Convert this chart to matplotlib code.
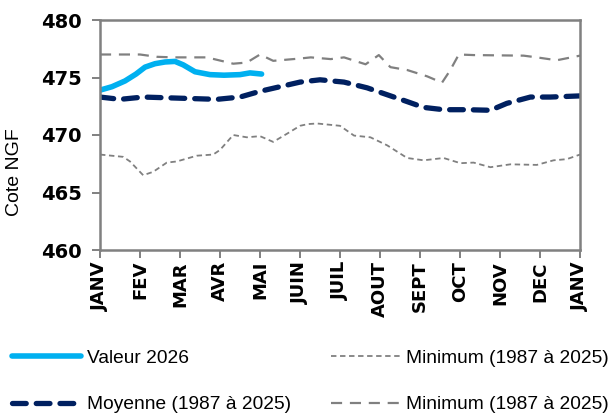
import matplotlib
matplotlib.use("Agg")
import matplotlib.pyplot as plt
import numpy as np

months = ["JANV", "FEV", "MAR", "AVR", "MAI", "JUIN", "JUIL", "AOUT", "SEPT", "OCT", "NOV", "DEC", "JANV"]
yticks = [460, 465, 470, 475, 480]

# x positions in months (0 = 1 Jan, 12 = 1 Jan next year)
val_x = [0, 0.3, 0.625, 0.9, 1.125, 1.375, 1.625, 1.875, 2.08, 2.375, 2.75, 3.1, 3.5, 3.75, 4.04]
val_y = [473.9, 474.2, 474.7, 475.3, 475.9, 476.2, 476.35, 476.4, 476.1, 475.5, 475.25, 475.2, 475.25, 475.4, 475.3]

moy_x = [0, 0.5, 1.08, 2.0, 2.92, 3.5, 4.0, 4.5, 5.0, 5.5, 6.1, 6.68, 7.18, 7.6, 8.09, 8.59, 9.18, 9.76, 10.17, 10.76, 11.26, 12]
moy_y = [473.3, 473.1, 473.3, 473.2, 473.1, 473.3, 473.8, 474.2, 474.6, 474.8, 474.6, 474.1, 473.5, 473.0, 472.4, 472.2, 472.2, 472.15, 472.75, 473.3, 473.3, 473.4]

minf_x = [0, 0.58, 0.75, 1.08, 1.33, 1.67, 1.92, 2.42, 2.83, 3.0, 3.33, 3.67, 4.0, 4.33, 4.67, 5.0, 5.2, 5.43, 6.0, 6.35, 6.76, 7.18, 7.68, 8.09, 8.59, 9.01, 9.34, 9.76, 10.26, 10.92, 11.34, 11.67, 12]
minf_y = [468.3, 468.1, 467.7, 466.5, 466.8, 467.6, 467.7, 468.2, 468.3, 468.7, 470.0, 469.8, 469.9, 469.4, 470.1, 470.8, 470.95, 471.0, 470.8, 469.95, 469.8, 469.1, 468.0, 467.8, 468.0, 467.55, 467.6, 467.2, 467.45, 467.4, 467.8, 467.9, 468.3]

mind_x = [0, 1.0, 1.42, 1.83, 2.67, 3.33, 3.67, 4.0, 4.33, 5.0, 5.27, 5.77, 6.1, 6.64, 6.97, 7.26, 7.68, 8.18, 8.55, 8.75, 8.97, 9.34, 10.59, 10.92, 11.42, 12]
mind_y = [477.0, 477.0, 476.8, 476.75, 476.75, 476.2, 476.3, 477.0, 476.45, 476.65, 476.75, 476.6, 476.75, 476.15, 476.95, 475.9, 475.65, 475.1, 474.55, 475.6, 477.0, 476.95, 476.9, 476.75, 476.5, 476.9]

labels = ["Valeur 2026", "Moyenne (1987 à 2025)", "Minimum (1987 à 2025)", "Minimum (1987 à 2025)"]

fig = plt.figure(figsize=(6.14, 4.18), dpi=100)
ax = fig.add_axes([100/614, 1-250/418, 480/614, 230/418])

gray = "#808080"
l3, = ax.plot(minf_x, minf_y, color=gray, lw=1.3, dashes=(3, 2), label=labels[2])
l4, = ax.plot(mind_x, mind_y, color=gray, lw=1.6, dashes=(5, 3.5), label=labels[3])
l2, = ax.plot(moy_x, moy_y, color="#002060", lw=3.8, dashes=(2.6, 1.9), dash_capstyle="round", label=labels[1])
l1, = ax.plot(val_x, val_y, color="#00B0F0", lw=4.0, solid_capstyle="round", label=labels[0])

ax.set_xlim(0, 12)
ax.set_ylim(460, 480)
ax.set_yticks(yticks, labels=[str(v) for v in yticks], fontweight="bold", fontsize=14)
ax.set_xticks(range(13), labels=months, rotation=90, fontweight="bold", fontsize=13)
ax.tick_params(axis="both", colors=gray, labelcolor="black", length=6, width=1.4, direction="out")
ax.tick_params(axis="x", pad=2)
ax.tick_params(axis="y", pad=7)
for s in ax.spines.values():
    s.set_color(gray)
    s.set_linewidth(1.8)
ax.set_ylabel("Cote NGF", fontsize=14, family="Liberation Sans")
ax.yaxis.set_label_coords(-0.16, 0.339)

fig.legend([l1, l2, l3, l4], labels, ncol=2, loc="center left", bbox_to_anchor=(12/614, 1-381.5/418),
           frameon=False, borderpad=0, borderaxespad=0, handlelength=3.6, handletextpad=0.3,
           columnspacing=2.1, labelspacing=1.5,
           prop={"family": ["Liberation Sans", "DejaVu Sans"], "size": 13.8})

fig.savefig("out.png", dpi=100)
